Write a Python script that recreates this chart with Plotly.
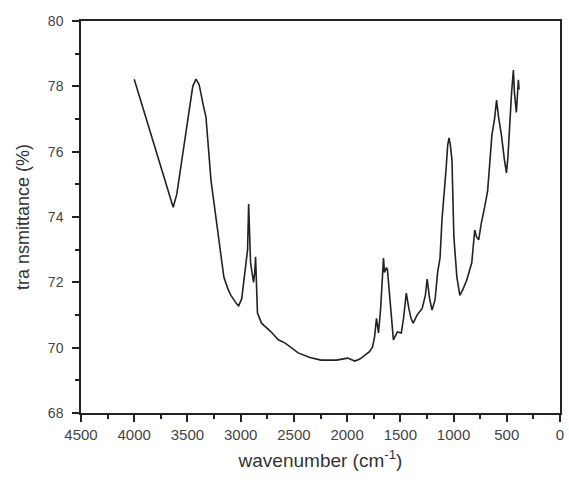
import plotly.graph_objects as go

wavenumber = [4000, 3634, 3600, 3500, 3450, 3419, 3390, 3350, 3326, 3279, 3205, 3158, 3120, 3093, 3040, 3019,
              2990, 2953, 2935, 2925, 2915, 2907, 2879, 2868, 2860, 2852, 2842, 2804, 2720, 2646, 2581,
              2460, 2350, 2245, 2100, 1994, 1928, 1880, 1835, 1790, 1761, 1742, 1724, 1705, 1685, 1668, 1658,
              1649, 1630, 1621, 1600, 1565, 1528, 1491, 1470, 1444, 1420, 1400, 1379, 1342, 1295, 1265,
              1248, 1225, 1202, 1174, 1150, 1137, 1127, 1109, 1090, 1071, 1055, 1043, 1030, 1015, 997,
              969, 941, 910, 876, 829, 801, 785, 764, 740, 708, 680, 661, 640, 615, 596,
              577, 550, 522, 503, 490, 475, 455, 438, 428, 410, 400, 391, 385]
transmittance = [78.22, 74.30, 74.7, 77.0, 78.0, 78.22, 78.05, 77.4, 77.06, 75.13, 73.39, 72.16, 71.8, 71.61, 71.35, 71.28,
                 71.5, 72.6, 73.0, 74.4, 73.3, 72.6, 72.0, 72.3, 72.78, 72.0, 71.06, 70.75, 70.5, 70.24, 70.14,
                 69.84, 69.7, 69.62, 69.62, 69.68, 69.59, 69.65, 69.78, 69.88, 70.02, 70.33, 70.9, 70.45, 71.2, 72.3, 72.74,
                 72.3, 72.45, 72.38, 71.5, 70.24, 70.48, 70.45, 70.9, 71.67, 71.2, 70.9, 70.75, 71.0, 71.2, 71.6,
                 72.1, 71.5, 71.15, 71.46, 72.3, 72.53, 72.75, 73.9, 74.58, 75.44, 76.2, 76.42, 76.2, 75.75, 73.39,
                 72.16, 71.6, 71.8, 72.07, 72.6, 73.6, 73.4, 73.3, 73.8, 74.3, 74.8, 75.6, 76.5, 77.0, 77.58,
                 77.06, 76.5, 75.75, 75.35, 75.8, 76.76, 77.8, 78.5, 77.8, 77.2, 77.8, 78.2, 77.9]

x_ticks = [4500, 4000, 3500, 3000, 2500, 2000, 1500, 1000, 500, 0]
y_ticks = [68, 70, 72, 74, 76, 78, 80]

fig = go.Figure(go.Scatter(x=wavenumber, y=transmittance, mode="lines",
                           line=dict(color="#222222", width=1.6), showlegend=False))

font = dict(family="Liberation Sans, Arial, sans-serif", color="#333333")
fig.update_layout(
    width=569, height=480,
    margin=dict(l=81, r=5, t=21, b=67),
    paper_bgcolor="white", plot_bgcolor="white",
    font=font,
    xaxis=dict(range=[4500, 0], tickvals=x_ticks, ticktext=[str(v) for v in x_ticks],
               showgrid=False, zeroline=False, showline=True, mirror=True, linecolor="#222222", linewidth=1.5,
               ticks="outside", ticklen=7, tickwidth=1.5, tickcolor="#222222",
               tickfont=dict(size=15, color="#444444"),
               minor=dict(ticks="outside", ticklen=4, tickwidth=1.5, tickcolor="#222222", dtick=250, tick0=0, showgrid=False),
               title=dict(text="wavenumber (cm<sup>-1</sup>)", font=dict(size=19, color="#333333"), standoff=12)),
    yaxis=dict(range=[68, 80], tickvals=y_ticks, ticktext=[str(v) for v in y_ticks],
               showgrid=False, zeroline=False, showline=True, mirror=True, linecolor="#222222", linewidth=1.5,
               ticks="outside", ticklen=7, tickwidth=1.5, tickcolor="#222222",
               tickfont=dict(size=14, color="#444444"), ticklabelstandoff=6,
               minor=dict(ticks="outside", ticklen=4, tickwidth=1.5, tickcolor="#222222", dtick=1, tick0=0, showgrid=False),
               title=dict(text="tra nsmittance (%)", font=dict(size=18, color="#333333"), standoff=14)),
)

fig.write_html("out.html")
